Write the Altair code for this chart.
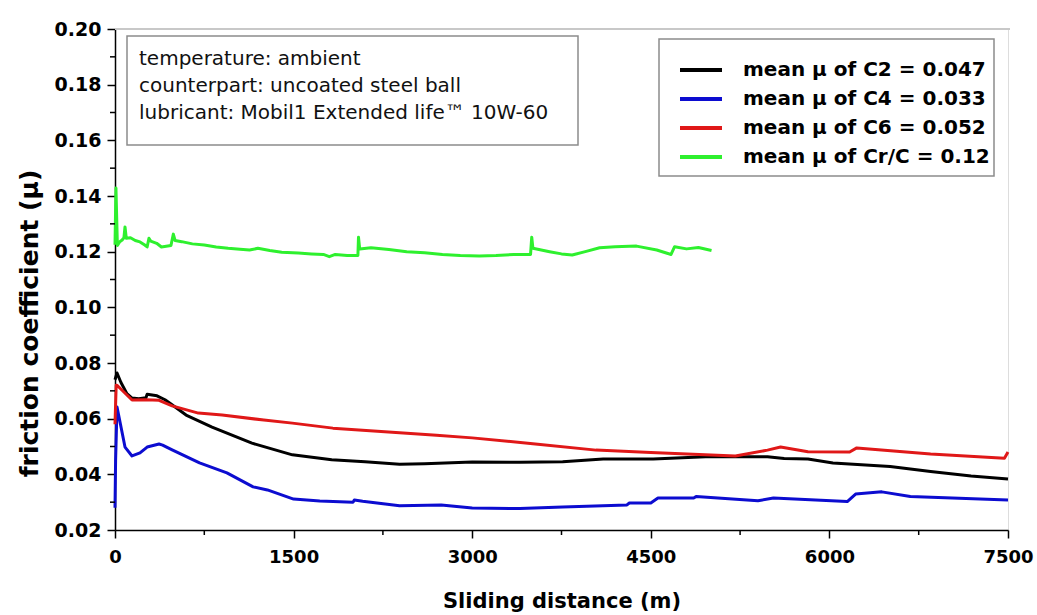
import altair as alt
import pandas as pd

# ---------------- data ----------------
series_names = ["C2", "C4", "C6", "Cr/C"]
legend_labels = ["mean \u03bc of C2 = 0.047", "mean \u03bc of C4 = 0.033",
                 "mean \u03bc of C6 = 0.052", "mean \u03bc of Cr/C = 0.12"]
series_colors = ["#000000", "#0c0cd0", "#e01818", "#2ef02e"]

c2_x = [0, 17, 50, 100, 143, 200, 260, 270, 353, 420, 479, 597, 815, 1150, 1490, 1820,
        2100, 2390, 2600, 3000, 3400, 3760, 4100, 4520, 4960, 5480, 5620, 5820, 6030,
        6510, 6850, 7190, 7500]
c2_y = [0.074, 0.0764, 0.073, 0.069, 0.0674, 0.0672, 0.0675, 0.0688, 0.0682, 0.0668,
        0.065, 0.0613, 0.057, 0.0512, 0.047, 0.0452, 0.0445, 0.0436, 0.0438, 0.0444,
        0.0443, 0.0445, 0.0455, 0.0455, 0.0463, 0.0463, 0.0457, 0.0455, 0.0441, 0.0428,
        0.041, 0.0394, 0.0383]

c4_x = [0, 5, 17, 84, 143, 210, 270, 370, 400, 480, 710, 940, 1160, 1280, 1500, 1720,
        2000, 2010, 2080, 2390, 2740, 3000, 3400, 3760, 4300, 4320, 4500, 4560, 4860,
        4880, 5400, 5530, 6150, 6220, 6440, 6680, 7500]
c4_y = [0.028, 0.045, 0.0642, 0.0498, 0.0466, 0.0477, 0.0498, 0.0509, 0.0505, 0.0488,
        0.0441, 0.0405, 0.0355, 0.0344, 0.0311, 0.0304, 0.0300, 0.0308, 0.0303, 0.0287,
        0.0290, 0.0279, 0.0277, 0.0283, 0.0290, 0.0297, 0.0297, 0.0315, 0.0315, 0.0320,
        0.0305, 0.0315, 0.0302, 0.0329, 0.0337, 0.0320, 0.0308]

c6_x = [0, 10, 17, 143, 260, 370, 480, 700, 900, 1250, 1490, 1830, 2390, 2700, 3000,
        3530, 4040, 4500, 5210, 5480, 5590, 5820, 6170, 6230, 6850, 7470, 7500]
c6_y = [0.058, 0.072, 0.0720, 0.0667, 0.0668, 0.0666, 0.0646, 0.0620, 0.0613, 0.0595,
        0.0584, 0.0566, 0.0549, 0.0540, 0.0531, 0.0509, 0.0487, 0.0478, 0.0466, 0.0487,
        0.0498, 0.0481, 0.0480, 0.0495, 0.0473, 0.0458, 0.0480]

crc_x = [0, 8, 20, 40, 60, 75, 84, 95, 130, 170, 210, 250, 270, 285, 300, 350, 390, 470,
         490, 505, 560, 650, 750, 850, 950, 1050, 1130, 1200, 1300, 1400, 1540, 1650,
         1750, 1800, 1850, 1950, 2040, 2045, 2055, 2150, 2300, 2450, 2600, 2750, 2900,
         3060, 3200, 3350, 3490, 3500, 3510, 3650, 3750, 3840, 3950, 4070, 4200, 4380,
         4550, 4670, 4700, 4800, 4900, 5010]
crc_y = [0.1225, 0.1429, 0.1222, 0.1236, 0.1242, 0.1250, 0.1289, 0.1248, 0.1250, 0.1240,
         0.1235, 0.1224, 0.1217, 0.1248, 0.1238, 0.1230, 0.1217, 0.1222, 0.1263, 0.1240,
         0.1236, 0.1228, 0.1224, 0.1217, 0.1212, 0.1209, 0.1206, 0.1212, 0.1204, 0.1198,
         0.1195, 0.1192, 0.1190, 0.1182, 0.1190, 0.1186, 0.1186, 0.1252, 0.1210, 0.1214,
         0.1208, 0.1200, 0.1196, 0.1190, 0.1186, 0.1184, 0.1186, 0.1190, 0.1190, 0.1252,
         0.1212, 0.1200, 0.1192, 0.1188, 0.1200, 0.1214, 0.1218, 0.1220, 0.1206, 0.1190,
         0.1218, 0.1210, 0.1215, 0.1204]

x_major = [0, 1500, 3000, 4500, 6000, 7500]
x_minor = [750, 2250, 3750, 5250, 6750]
y_major = [0.02, 0.04, 0.06, 0.08, 0.10, 0.12, 0.14, 0.16, 0.18, 0.20]
y_minor = [0.03, 0.05, 0.07, 0.09, 0.11, 0.13, 0.15, 0.17, 0.19]

info_lines = ["temperature: ambient", "counterpart: uncoated steel ball",
              "lubricant: Mobil1 Extended life\u2122 10W-60"]

# ---------------- tables ----------------
frames = []
for name, xs_, ys_ in [("C2", c2_x, c2_y), ("C4", c4_x, c4_y), ("C6", c6_x, c6_y), ("Cr/C", crc_x, crc_y)]:
    frames.append(pd.DataFrame({"x": xs_, "y": ys_, "series": name}))
df = pd.concat(frames, ignore_index=True)

legend_df = pd.DataFrame({"series": series_names, "label": legend_labels})
legend_df["ly"] = [41 + 29 * i for i in range(len(series_names))]

W, H = 893, 501
FONT = "DejaVu Sans"

color_scale = alt.Scale(domain=series_names, range=series_colors)
xs = alt.Scale(domain=[0, 7500], nice=False, zero=False)
ys = alt.Scale(domain=[0.02, 0.20], nice=False, zero=False)

lines = alt.Chart(df).mark_line(strokeJoin="round").encode(
    x=alt.X("x:Q", scale=xs, axis=alt.Axis(
        values=x_major, format="d", title="Sliding distance (m)", grid=False,
        tickSize=8, tickWidth=1.5, tickColor="black", domainColor="black", domainWidth=1.5,
        labelFont=FONT, labelFontSize=18, labelFontWeight="bold", labelColor="black",
        labelPadding=10, titleFont=FONT, titleFontSize=21, titleFontWeight="bold",
        titleColor="black", titlePadding=24, labelFlush=False)),
    y=alt.Y("y:Q", scale=ys, axis=alt.Axis(
        values=y_major, format=".2f", title="friction coefficient (\u03bc)", grid=False,
        tickSize=8, tickWidth=1.5, tickColor="black", domainColor="black", domainWidth=1.5,
        labelFont=FONT, labelFontSize=19, labelFontWeight="bold", labelColor="black",
        labelPadding=6, titleFont=FONT, titleFontSize=25, titleFontWeight="bold",
        titleColor="black", titlePadding=12, titleY=294)),
    color=alt.Color("series:N", scale=color_scale, legend=None),
    strokeWidth=alt.StrokeWidth("series:N", scale=alt.Scale(domain=series_names, range=[3, 3, 3, 5]), legend=None),
    order=alt.Order("x:Q"),
)

ymin = alt.Chart(pd.DataFrame({"y": y_minor})).mark_rule(color="black", strokeWidth=1.5).encode(
    y=alt.Y("y:Q", scale=ys), x=alt.value(-5), x2=alt.value(0))
xmin = alt.Chart(pd.DataFrame({"x": x_minor})).mark_rule(color="black", strokeWidth=1.5).encode(
    x=alt.X("x:Q", scale=xs), y=alt.value(H), y2=alt.value(H + 5))

one = pd.DataFrame({"k": [0]})
top_line = alt.Chart(one).mark_rule(color="#c8c8c8", strokeWidth=2).encode(
    x=alt.value(0), x2=alt.value(W + 2), y=alt.value(0))

info_box = alt.Chart(one).mark_rect(fill="white", stroke="#8c8c8c", strokeWidth=1.5).encode(
    x=alt.value(12), x2=alt.value(463), y=alt.value(7), y2=alt.value(116))
info_text = alt.Chart(one).mark_text(
    align="left", baseline="middle", font=FONT, fontSize=20, color="#111111",
    lineBreak="\n", lineHeight=27).encode(
    x=alt.value(24), y=alt.value(30), text=alt.value("\n".join(info_lines)))

leg_box = alt.Chart(one).mark_rect(fill="white", stroke="#8c8c8c", strokeWidth=1.5).encode(
    x=alt.value(544), x2=alt.value(879), y=alt.value(10), y2=alt.value(147))
leg_lines = alt.Chart(legend_df).mark_rule(strokeWidth=4).encode(
    x=alt.value(565), x2=alt.value(607), y=alt.Y("ly:Q", scale=None),
    color=alt.Color("series:N", scale=color_scale, legend=None))
leg_text = alt.Chart(legend_df).mark_text(
    align="left", baseline="middle", font=FONT, fontSize=20, fontWeight="bold", color="black").encode(
    x=alt.value(628), y=alt.Y("ly:Q", scale=None), text="label:N")

chart = alt.layer(
    top_line, info_box, info_text, leg_box, lines, leg_lines, leg_text, ymin, xmin
).properties(
    width=W, height=H,
    autosize=alt.AutoSizeParams(type="none"),
    padding={"left": 115, "top": 29, "right": 29, "bottom": 85},
).configure_view(stroke=None).configure(background="white")

chart.save("out.html", embed_options={"renderer": "svg", "actions": False})
